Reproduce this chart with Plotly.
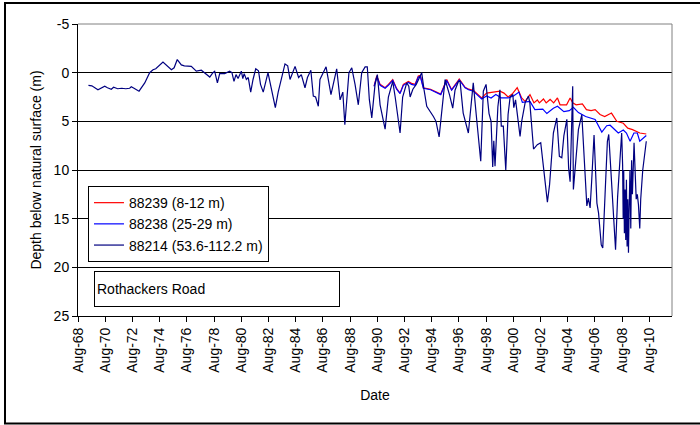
import plotly.graph_objects as go

# ---- data (decimal year, depth below natural surface in m) ----
navy_year = [1969.35, 1969.6, 1970.05, 1970.55, 1970.75, 1971.03, 1971.2, 1971.5, 1971.8, 1972.1,
             1972.38, 1972.5, 1972.7, 1973.07, 1973.49, 1973.85, 1974.1, 1974.3, 1974.83, 1975.08,
             1975.45, 1975.65, 1975.88, 1976.18, 1976.4, 1976.91, 1977.28, 1977.65, 1978.02, 1978.27,
             1978.5, 1978.63, 1978.83, 1979.0, 1979.37, 1979.73, 1979.9, 1980.05, 1980.2, 1980.35,
             1980.59, 1980.7, 1980.8, 1980.96, 1981.1, 1981.28, 1981.45, 1981.65, 1981.85, 1982.0,
             1982.2, 1982.55, 1982.7, 1982.85, 1983.09, 1983.3, 1983.8, 1984.0, 1984.17, 1984.54,
             1984.8, 1985.0, 1985.27, 1985.45, 1985.7, 1985.88, 1986.05, 1986.25, 1986.37, 1986.82,
             1987.18, 1987.6, 1987.85, 1988.05, 1988.2, 1988.5, 1988.71, 1988.95, 1989.19, 1989.44,
             1989.69, 1989.85, 1990.0, 1990.18, 1990.42, 1990.59, 1990.79, 1991.16, 1991.4, 1991.72,
             1991.9, 1992.26, 1992.45, 1992.75, 1992.9, 1993.0, 1993.2, 1993.45, 1993.85, 1994.02,
             1994.22, 1994.71, 1994.9, 1995.13, 1995.3, 1995.57, 1995.9, 1996.13, 1996.3, 1996.55,
             1996.67, 1996.9, 1997.28, 1997.64, 1997.85, 1998.19, 1998.38, 1998.58, 1998.8, 1998.95,
             1999.07, 1999.15, 1999.24, 1999.45, 1999.6, 1999.7, 1999.85, 2000.03, 2000.2, 2000.35,
             2000.55, 2000.62, 2000.75, 2001.08, 2001.2, 2001.45, 2001.7, 2001.8, 2002.07, 2002.35,
             2002.6, 2002.8, 2003.09, 2003.25, 2003.53, 2003.78, 2003.97, 2004.15, 2004.3, 2004.52,
             2004.65, 2004.76, 2004.95, 2005.0, 2005.2, 2005.37, 2005.62, 2005.8, 2005.99, 2006.1,
             2006.23, 2006.35, 2006.52, 2006.73, 2006.85, 2007.05, 2007.16, 2007.33, 2007.5, 2007.6,
             2007.8, 2007.98, 2008.1, 2008.25, 2008.4, 2008.55, 2008.62, 2008.66, 2008.7, 2008.75,
             2008.8, 2008.85, 2008.9, 2008.95, 2009.0, 2009.05, 2009.1, 2009.16, 2009.22, 2009.28,
             2009.34, 2009.4, 2009.46, 2009.55, 2009.62, 2009.7, 2009.78, 2009.88, 2009.95, 2010.1,
             2010.36]
navy_depth = [1.3, 1.35, 1.75, 1.4, 1.55, 1.7, 1.5, 1.65, 1.6, 1.65,
              1.6, 1.45, 1.6, 1.9, 1.05, 0.0, -0.3, -0.4, -1.1, -0.8,
              -0.3, -0.5, -1.35, -0.8, -0.7, -0.65, -0.15, -0.25, 0.2, 0.45,
              0.0, -0.15, 1.05, 0.1, 0.1, -0.15, 0.0, 0.9, 0.2, 0.6,
              -0.15, 0.6, 0.1, 0.7, 0.5, 2.0, 0.7, -0.4, -0.2, 1.2,
              2.0, 0.0, 1.0, 2.0, 3.6, 2.0, -0.9, -0.7, 0.7, -0.65,
              0.5, 0.2, 1.55, 0.5, -0.25, 2.4, 2.5, 3.45, 0.7, -0.6,
              2.25, -0.4, 2.8, 2.0, 5.35, 0.0, -0.5, 1.2, 3.3, 0.0,
              -0.6, -0.6, 2.75, 4.65, 1.2, 0.2, 3.3, 5.8, 2.5, 0.9,
              2.5, 6.2, 2.5, 1.05, 1.4, 2.5, 1.7, 1.2, 0.0, 1.75,
              3.45, 4.5, 5.0, 6.6, 4.5, 0.7, 2.3, 3.65, 1.8, 0.9,
              0.9, 4.15, 6.2, 1.05, 4.2, 9.1, 1.9, 1.2, 4.2, 5.0,
              9.7, 7.0, 9.6, 3.5, 1.75, 5.5, 5.5, 10.0, 4.3, 2.5,
              2.25, 3.6, 2.8, 6.55, 5.0, 3.1, 2.4, 3.1, 7.85, 7.4,
              7.2, 9.6, 13.3, 11.5, 6.2, 4.65, 8.6, 8.75, 6.5, 4.8,
              9.8, 11.2, 1.4, 12.0, 9.0, 5.85, 4.3, 9.3, 13.7, 12.9,
              13.9, 11.0, 6.4, 13.4, 14.4, 17.7, 18.0, 12.5, 7.05, 6.35,
              11.0, 16.0, 18.2, 12.8, 9.5, 6.2, 9.5, 15.0, 10.0, 16.5,
              12.0, 17.2, 11.0, 17.85, 13.0, 18.5, 14.0, 10.0, 16.0, 9.0,
              12.5, 8.0, 7.2, 10.5, 13.0, 12.5, 13.5, 16.0, 13.0, 10.0,
              7.05]

red_year = [1990.35, 1990.55, 1990.79, 1991.16, 1991.4, 1991.72, 1992.01, 1992.26, 1992.5, 1992.87,
            1993.1, 1993.36, 1993.6, 1993.75, 1993.97, 1994.5, 1995.25, 1995.69, 1996.05, 1996.61,
            1997.04, 1997.3, 1997.64, 1998.26, 1998.62, 1999.1, 1999.6, 1999.9, 2000.2, 2000.5,
            2000.87, 2001.2, 2001.45, 2001.81, 2002.1, 2002.35, 2002.5, 2002.8, 2003.0, 2003.29,
            2003.55, 2003.83, 2004.02, 2004.5, 2004.76, 2004.95, 2005.2, 2005.66, 2005.96, 2006.3,
            2006.6, 2006.96, 2007.3, 2007.8, 2008.19, 2008.67, 2009.0, 2009.35, 2009.6, 2009.88,
            2010.36]
red_depth = [1.35, 0.3, 1.2, 1.55, 1.2, 0.7, 1.65, 2.1, 1.2, 0.9,
             1.1, 1.2, 0.35, 0.3, 1.55, 1.7, 2.2, 0.7, 1.75, 0.65,
             1.5, 1.7, 1.8, 2.6, 2.1, 2.0, 1.9, 2.1, 2.5, 2.2,
             1.55, 2.6, 2.95, 2.25, 3.1, 2.8, 3.1, 2.7, 3.1, 2.75,
             3.1, 2.6, 3.3, 3.3, 2.6, 3.1, 3.3, 3.2, 3.8, 3.9,
             3.8, 4.3, 4.5, 4.15, 5.0, 5.2, 5.7, 5.85, 6.0, 6.2,
             6.3]

blue_year = [1990.35, 1990.55, 1990.79, 1991.16, 1991.4, 1991.72, 1992.01, 1992.26, 1992.5, 1992.87,
             1993.1, 1993.36, 1993.6, 1993.75, 1993.97, 1994.5, 1995.25, 1995.69, 1996.05, 1996.61,
             1997.04, 1997.3, 1997.64, 1998.26, 1998.62, 1998.95, 1999.3, 1999.7, 2000.2, 2000.6,
             2001.0, 2001.25, 2001.81, 2002.17, 2002.75, 2003.05, 2003.53, 2003.83, 2004.3, 2004.7,
             2005.0, 2005.37, 2005.9, 2006.2, 2006.6, 2007.09, 2007.45, 2007.7, 2007.95, 2008.3,
             2008.67, 2008.9, 2009.17, 2009.45, 2009.7, 2009.88, 2010.36]
blue_depth = [1.4, 0.4, 1.3, 1.6, 1.3, 0.8, 1.7, 2.15, 1.3, 1.0,
              1.2, 1.3, 0.45, 0.4, 1.6, 1.75, 2.25, 0.8, 1.8, 0.75,
              1.55, 1.75, 1.9, 2.7, 2.4, 2.6, 2.25, 2.6, 2.6, 2.4,
              2.0, 3.05, 2.95, 3.8, 3.75, 4.2, 3.65, 3.45, 4.0, 3.9,
              3.55, 4.1, 4.5, 4.6, 4.8, 6.1, 5.45, 5.4, 5.7, 6.2,
              5.9, 6.2, 7.05, 6.2, 6.2, 7.05, 6.45]

tick_labels = ["Aug-68", "Aug-70", "Aug-72", "Aug-74", "Aug-76", "Aug-78", "Aug-80", "Aug-82",
               "Aug-84", "Aug-86", "Aug-88", "Aug-90", "Aug-92", "Aug-94", "Aug-96", "Aug-98",
               "Aug-00", "Aug-02", "Aug-04", "Aug-06", "Aug-08", "Aug-10"]
tick_years = [1968 + 7 / 12 + 2 * i for i in range(len(tick_labels))]

depth_ticks = [-5, 0, 5, 10, 15, 20, 25]
depth_tick_labels = ["-5", "0", "5", "10", "15", "20", "25"]

FONT = "Arial, 'Liberation Sans', sans-serif"

fig = go.Figure()
fig.add_trace(go.Scatter(x=red_year, y=red_depth, mode="lines", name="88239 (8-12 m)",
                         line=dict(color="#FF0000", width=1.2)))
fig.add_trace(go.Scatter(x=blue_year, y=blue_depth, mode="lines", name="88238 (25-29 m)",
                         line=dict(color="#0000FF", width=1.2)))
fig.add_trace(go.Scatter(x=navy_year, y=navy_depth, mode="lines", name="88214 (53.6-112.2 m)",
                         line=dict(color="#000080", width=1.2)))

fig.update_layout(
    width=700, height=425,
    margin=dict(l=78, r=28, t=24, b=109),
    paper_bgcolor="white", plot_bgcolor="white",
    font=dict(family=FONT, size=14, color="black"),
    showlegend=True,
    legend=dict(x=0.0168, y=0.445, xanchor="left", yanchor="top",
                bordercolor="black", borderwidth=1, bgcolor="white",
                font=dict(size=14), tracegroupgap=0, itemwidth=30),
    xaxis=dict(range=[1968 + 7 / 12, 2012.25], tickvals=tick_years, ticktext=tick_labels,
               tickangle=-90, ticks="outside", ticklen=5, tickcolor="black",
               showline=True, linecolor="black", linewidth=1, showgrid=False, zeroline=False,
               title=dict(text="Date", standoff=18, font=dict(size=14)),
               tickfont=dict(size=14)),
    yaxis=dict(range=[25, -5], tickvals=depth_ticks, ticktext=depth_tick_labels,
               ticks="outside", ticklen=5, tickcolor="black",
               showline=True, linecolor="black", linewidth=1,
               showgrid=True, gridcolor="black", gridwidth=1, zeroline=False,
               title=dict(text="Depth below natural surface (m)", standoff=8, font=dict(size=14)),
               tickfont=dict(size=14)),
    shapes=[
        dict(type="line", xref="paper", yref="paper", x0=0, x1=1, y0=1, y1=1,
             line=dict(color="#808080", width=1)),
        dict(type="line", xref="paper", yref="paper", x0=1, x1=1, y0=0, y1=1,
             line=dict(color="#808080", width=1)),
        dict(type="rect", xref="paper", yref="paper", x0=-0.1229, x1=1.06, y0=-0.368, y1=1.0719,
             line=dict(color="black", width=2), layer="above"),
    ],
    annotations=[
        dict(text="Rothackers Road", xref="paper", yref="paper", x=0.0269, y=0.0925,
             xanchor="left", yanchor="middle", showarrow=False, align="left",
             width=240, height=30, bordercolor="black", borderwidth=1, borderpad=2,
             bgcolor="white", font=dict(size=14)),
    ],
)

fig.write_html("out.html")
